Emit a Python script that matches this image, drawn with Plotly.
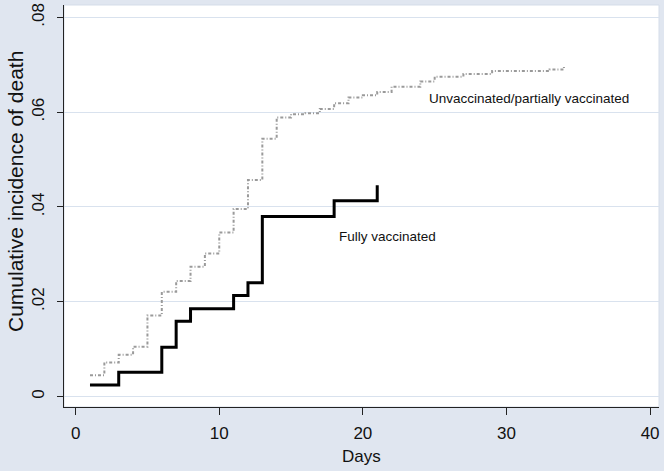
import plotly.graph_objects as go

# Data
full_days = [1, 3, 6, 7, 8, 11, 12, 13, 18, 21]
full_inc = [0.0024, 0.0051, 0.0104, 0.0159, 0.0185, 0.0213, 0.0240, 0.0380, 0.0413, 0.0446]

unvax_days = [1, 2, 3, 4, 5, 6, 7, 8, 9, 10, 11, 12, 13, 14, 15, 16, 17, 18, 19, 20,
              21, 22, 24, 25, 27, 29, 33, 34]
unvax_inc = [0.0045, 0.0072, 0.0088, 0.0105, 0.0171, 0.0221, 0.0244, 0.0274, 0.0302,
             0.0346, 0.0396, 0.0457, 0.0544, 0.0589, 0.0596, 0.0598, 0.0607, 0.0619,
             0.0631, 0.0636, 0.0643, 0.0654, 0.0665, 0.0675, 0.0681, 0.0687, 0.0690, 0.0697]

x_ticks = [0, 10, 20, 30, 40]
y_ticks = [0, 0.02, 0.04, 0.06, 0.08]
y_ticktext = ["0", ".02", ".04", ".06", ".08"]

FONT = "Liberation Sans, Arial, sans-serif"
TXT = "#111111"

fig = go.Figure()
fig.add_trace(go.Scatter(
    x=unvax_days, y=unvax_inc, mode="lines", line_shape="hv",
    line=dict(color="#9a9a9a", width=2, dash="3px,2px,1px,2px"),
    showlegend=False, hoverinfo="skip"))
fig.add_trace(go.Scatter(
    x=full_days, y=full_inc, mode="lines", line_shape="hv",
    line=dict(color="black", width=3),
    showlegend=False, hoverinfo="skip"))

fig.add_annotation(x=24.45, y=0.0630, text="Unvaccinated/partially vaccinated",
                   showarrow=False, xanchor="left", yanchor="middle",
                   font=dict(family=FONT, size=13.5, color=TXT))
fig.add_annotation(x=18.2, y=0.0337, text="Fully vaccinated",
                   showarrow=False, xanchor="left", yanchor="middle",
                   font=dict(family=FONT, size=13.5, color=TXT))

# axis titles
fig.add_annotation(xref="paper", yref="paper", x=0, y=0.5, xshift=-49, yshift=14,
                   text="Cumulative incidence of death", textangle=-90,
                   showarrow=False, xanchor="center", yanchor="middle",
                   font=dict(family=FONT, size=21, color=TXT))
fig.add_annotation(xref="paper", yref="paper", x=0.5, y=0, yshift=-49,
                   text="Days", showarrow=False, xanchor="center", yanchor="middle",
                   font=dict(family=FONT, size=17, color=TXT))

# faint border of the plot region (top / right)
fig.add_shape(type="rect", xref="paper", yref="paper", x0=0, y0=0, x1=1, y1=1,
              line=dict(color="#D5DDE9", width=1), layer="below")

fig.update_layout(
    width=664, height=471,
    margin=dict(l=64, r=5, t=5, b=64),
    paper_bgcolor="#E0E6F0", plot_bgcolor="white",
    font=dict(family=FONT, color=TXT),
    xaxis=dict(range=[-0.81, 40.62], tickvals=x_ticks, showgrid=False, zeroline=False,
               automargin=False,
               showline=True, linecolor="#222222", linewidth=1,
               ticks="outside", ticklen=7, tickcolor="#222222",
               ticklabelstandoff=4,
               tickfont=dict(size=17)),
    yaxis=dict(range=[-0.00222, 0.08264], tickvals=y_ticks, ticktext=y_ticktext,
               automargin=False,
               tickangle=-90, showgrid=True, gridcolor="#D9E2EE", gridwidth=1,
               zeroline=False, showline=True, linecolor="#222222", linewidth=1,
               ticks="outside", ticklen=6, tickcolor="#222222",
               ticklabelstandoff=6,
               tickfont=dict(size=17)),
)

fig.write_html("out.html", config={"displayModeBar": False},
               post_script="document.body.style.margin='0';document.body.style.overflow='hidden';")
